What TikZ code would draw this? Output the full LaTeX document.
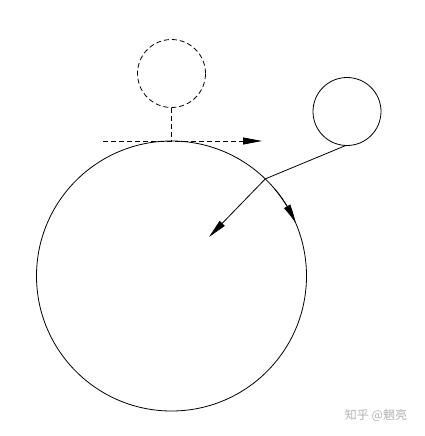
\documentclass[tikz,border=0pt]{standalone}
\usepackage{fontspec}
\newfontfamily\cjk{Noto Sans CJK SC}
\usetikzlibrary{arrows.meta,bending}
\begin{document}
\begin{tikzpicture}[x=1pt,y=-1pt,
  ln/.style={line width=0.8pt,black},
  ring/.style={circle,draw,line width=0.8pt,inner sep=0pt,outer sep=0pt},
  tip/.style={-{Triangle[length=19pt,width=7pt]}},
  dsh/.style={dash pattern=on 5pt off 3pt}]
\useasboundingbox (0,0) rectangle (424,436);
\node[ring,minimum size=270pt] (big) at (171.5,276) {};
\node[ring,dsh,minimum size=68pt] (ghost) at (171.5,73.5) {};
\node[ring,minimum size=68pt] (small) at (347,111.5) {};
\coordinate (hl) at (103,141);
\coordinate (hr) at (262,141);
\coordinate (aim) at (209,237);
\draw[ln,dsh] (ghost.south) -- (big.north);
\draw[ln,dsh,tip] (hl) -- (hr);
\draw[ln] (small.-92) -- (big.46);
\draw[ln,tip] (big.46) -- (aim);
\draw[ln,-{Triangle[length=19pt,width=7pt,bend]}] (big.40) arc[start angle=40,end angle=23,radius=135pt];
\node[text=black!30,font=\cjk\fontsize{12}{14}\selectfont] (wm) at (376,415) {知乎 @魍亮};
\end{tikzpicture}
\end{document}
